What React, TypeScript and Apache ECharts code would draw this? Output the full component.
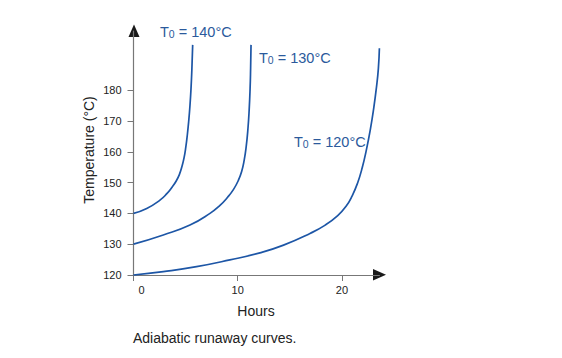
import React, { useEffect, useRef } from "react";
import * as echarts from "echarts";

const xTicks = [0, 10, 20];
const yTicks = [120, 130, 140, 150, 160, 170, 180];

const curve140: [number, number][] = [
  [0, 140], [1.27, 141.6], [2.54, 144.3], [3.2, 146.4], [3.7, 148.5], [4.1, 150.5],
  [4.4, 152.6], [4.65, 155.2], [4.85, 158], [5.02, 161.5], [5.17, 165.6], [5.3, 170],
  [5.42, 175], [5.52, 180.5], [5.6, 186.5], [5.68, 194.7],
];
const curve130: [number, number][] = [
  [0, 130], [2.86, 133], [5.42, 136.2], [7.34, 140], [8.3, 142.6], [9.05, 145.3],
  [9.6, 147.8], [10.05, 150.6], [10.38, 153.6], [10.62, 157.2], [10.82, 161.8],
  [10.98, 167.3], [11.1, 173.5], [11.19, 180.5], [11.24, 187], [11.28, 194.7],
];
const curve120: [number, number][] = [
  [0, 120], [2.86, 121.1], [6.05, 122.7], [9.25, 124.9], [12.13, 127.2], [14.4, 129.7],
  [16.94, 133.5], [18.4, 136.2], [19.6, 139.3], [20.4, 142.3], [21.0, 145.8],
  [21.5, 149.8], [21.95, 154.8], [22.35, 160.6], [22.72, 167], [23.05, 174],
  [23.32, 181], [23.5, 187], [23.6, 193.6],
];
const curveLabels = ["140", "130", "120"];

const FONT = "Liberation Sans, Arial, sans-serif";
const LINE = "#1d56a6";
const TXT_BLUE = "#2b5a9c";

export default function App() {
  const ref = useRef<HTMLDivElement>(null);
  useEffect(() => {
    document.body.style.margin = "0";
    const chart = echarts.init(ref.current!, null, { renderer: "svg" });
    const mkSeries = (data: [number, number][]) => ({
      type: "line",
      data,
      smooth: 0.5,
      showSymbol: false,
      symbol: "none",
      clip: false,
      lineStyle: { color: LINE, width: 1.7 },
    });
    const mkLabel = (t: string, x: number, y: number) => ({
      type: "text",
      x,
      y,
      style: {
        text: `{a|T}{s|0}{a| = ${t}°C}`,
        verticalAlign: "middle",
        align: "left",
        rich: {
          a: { fontSize: 14.5, fontFamily: FONT, fill: TXT_BLUE, color: TXT_BLUE, verticalAlign: "bottom", lineHeight: 14 },
          s: { fontSize: 10.5, fontFamily: FONT, fill: TXT_BLUE, color: TXT_BLUE, verticalAlign: "bottom", padding: [7, 0, 0, 0], lineHeight: 10 },
        },
      },
    });
    chart.setOption({
      animation: false,
      grid: { left: 133.5, right: 182.6, top: 31, bottom: 83, containLabel: false },
      xAxis: {
        type: "value",
        min: 0,
        max: 23.6,
        interval: 10,
        splitLine: { show: false },
        axisLine: { lineStyle: { color: "#777", width: 1.2 } },
        axisTick: { length: 6, lineStyle: { color: "#777" }, customValues: xTicks },
        axisLabel: {
          customValues: xTicks,
          margin: 9,
          fontSize: 11,
          fontFamily: FONT,
          color: "#222",
          formatter: (v: number) => (v === 0 ? "{z|0}" : String(v)),
          rich: { z: { fontSize: 11, fontFamily: FONT, color: "#222", padding: [0, 0, 0, 16] } },
        },
      },
      yAxis: {
        type: "value",
        min: 120,
        max: 199.2,
        splitLine: { show: false },
        axisLine: { show: true, lineStyle: { color: "#777", width: 1.2 } },
        axisTick: { show: true, length: 6, lineStyle: { color: "#777" }, customValues: yTicks },
        axisLabel: {
          customValues: yTicks,
          margin: 12,
          fontSize: 11,
          fontFamily: FONT,
          color: "#222",
        },
      },
      series: [mkSeries(curve140), mkSeries(curve130), mkSeries(curve120)],
      graphic: [
        { type: "polygon", shape: { points: [[128.5, 37], [134, 24.5], [139.5, 37]] }, style: { fill: "#1a1a1a" } },
        { type: "polygon", shape: { points: [[373, 269], [386, 274.8], [373, 280.5]] }, style: { fill: "#1a1a1a" } },
        {
          type: "text",
          x: 89,
          y: 150,
          rotation: Math.PI / 2,
          style: { text: "Temperature (°C)", fontSize: 14, fontFamily: FONT, fill: "#222", align: "center", verticalAlign: "middle" },
        },
        {
          type: "text",
          x: 256,
          y: 311,
          style: { text: "Hours", fontSize: 14, fontFamily: FONT, fill: "#222", align: "center", verticalAlign: "middle" },
        },
        {
          type: "text",
          x: 133,
          y: 338,
          style: { text: "Adiabatic runaway curves.", fontSize: 14, fontFamily: FONT, fill: "#222", align: "left", verticalAlign: "middle" },
        },
        mkLabel(curveLabels[0], 160, 32),
        mkLabel(curveLabels[1], 259, 58),
        mkLabel(curveLabels[2], 294, 142),
      ],
    });
    return () => chart.dispose();
  }, []);
  return <div ref={ref} style={{ width: 562, height: 358 }} />;
}
